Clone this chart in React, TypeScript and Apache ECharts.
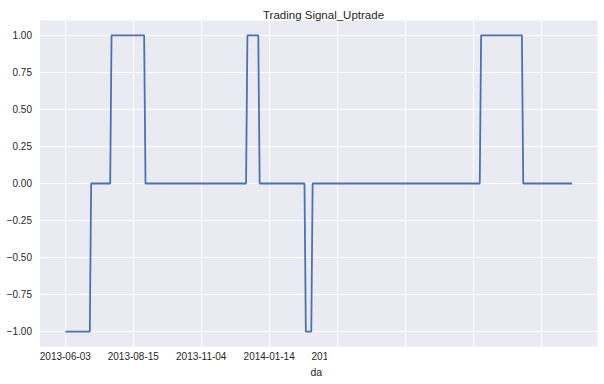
import React, { useEffect, useRef } from "react";
import * as echarts from "echarts";

// Run-length encoded trading signal (value, number of consecutive trading days)
const runValues = [-1, 0, 1, 0, 1, 0, -1, 0, 1, 0];
const runLengths = [19, 15, 25, 75, 9, 34, 5, 124, 31, 37];

// Tick positions (trading-day index) and their date labels
const tickIndex = [0, 50, 100, 150, 200, 250, 300, 350];
const tickLabels = [
  "2013-06-03",
  "2013-08-15",
  "2013-11-04",
  "2014-01-14",
  "2014-04-01",
  "2014-06-16",
  "2014-08-25",
  "2014-11-11",
];
const yTicks = [-1, -0.75, -0.5, -0.25, 0, 0.25, 0.5, 0.75, 1];

const title = "Trading Signal_Uptrade";
const xName = "date";

export default function App() {
  const ref = useRef<HTMLDivElement>(null);
  useEffect(() => {
    if (!ref.current) return;
    const chart = echarts.init(ref.current, undefined, { renderer: "svg" });
    const data: [number, number][] = [];
    let idx = 0;
    runValues.forEach((v, k) => {
      for (let j = 0; j < runLengths[k]; j++) {
        data.push([idx, v]);
        idx++;
      }
    });
    const n = data.length - 1;
    const pad = n * 0.05;
    const font = "Liberation Sans, Arial, sans-serif";
    const txt = "#262626";
    chart.setOption({
      animation: false,
      backgroundColor: "#ffffff",
      title: {
        text: title,
        left: 318.5,
        textAlign: "center",
        top: 4,
        textStyle: { fontFamily: font, fontSize: 11.5, fontWeight: "normal", color: txt },
      },
      grid: { left: 40, right: 6.5, top: 20.5, bottom: 37.5, containLabel: false, show: true, backgroundColor: "#EAEAF2", borderWidth: 0 },
      xAxis: {
        type: "value",
        min: -pad,
        max: n + pad,
        name: xName,
        nameLocation: "middle",
        nameGap: 20,
        nameTextStyle: { fontFamily: font, fontSize: 10.5, color: txt, padding: [0, 0, 0, 4] },
        axisLine: { show: false },
        axisTick: { show: false, customValues: tickIndex },
        axisLabel: {
          customValues: tickIndex,
          margin: 5,
          fontFamily: font,
          fontSize: 10,
          color: txt,
          formatter: (v: number) => tickLabels[tickIndex.indexOf(Math.round(v))] ?? "",
        },
        splitLine: { show: true, lineStyle: { color: "#ffffff", width: 1 } },
      },
      yAxis: {
        type: "value",
        min: -1.1,
        max: 1.1,
        axisLine: { show: false },
        axisTick: { show: false, customValues: yTicks },
        axisLabel: {
          customValues: yTicks,
          margin: 8,
          fontFamily: font,
          fontSize: 10,
          color: txt,
          formatter: (v: number) => (v < 0 ? "\u2212" + Math.abs(v).toFixed(2) : v.toFixed(2)),
        },
        splitLine: { show: true, lineStyle: { color: "#ffffff", width: 1 } },
      },
      graphic: [
        {
          type: "rect",
          z: 100,
          shape: { x: 327, y: 350, width: 277, height: 14 },
          style: { fill: "#ffffff" },
        },
        {
          type: "rect",
          z: 100,
          shape: { x: 322.5, y: 364, width: 282, height: 20 },
          style: { fill: "#ffffff" },
        },
      ],
      series: [
        {
          type: "line",
          data,
          showSymbol: false,
          symbol: "none",
          lineStyle: { color: "#4C72B0", width: 1.8 },
        },
      ],
    });
    return () => chart.dispose();
  }, []);
  return (
    <div
      ref={ref}
      style={{ position: "fixed", left: 0, top: 0, width: 604, height: 384 }}
    />
  );
}
